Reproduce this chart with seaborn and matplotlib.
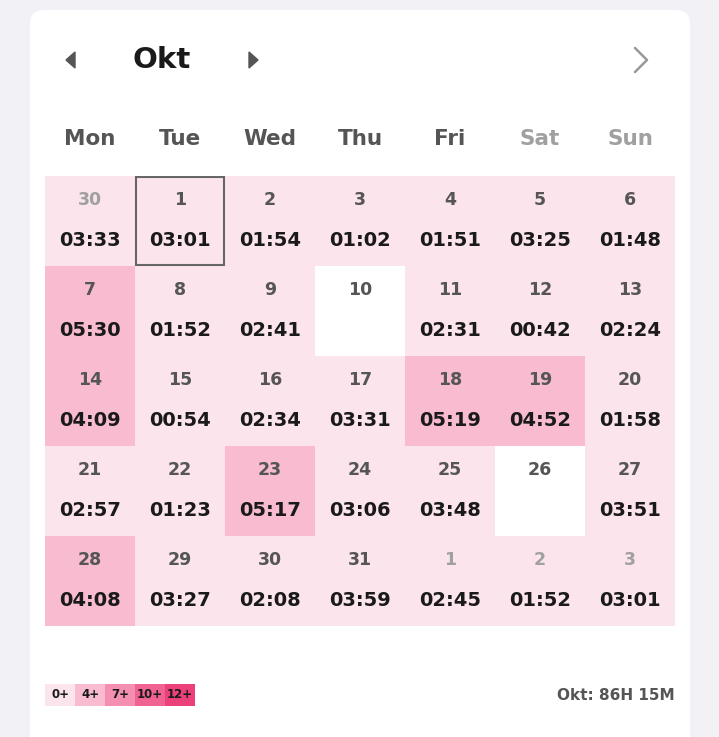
import numpy as np
import pandas as pd
import matplotlib.pyplot as plt
from matplotlib.colors import ListedColormap, BoundaryNorm
from matplotlib.patches import FancyBboxPatch, Polygon, Rectangle
import seaborn as sns

sns.set_theme(style="white")
plt.rcParams["font.family"] = ["DejaVu Sans"]

month = "Okt"
weekdays = ["Mon", "Tue", "Wed", "Thu", "Fri", "Sat", "Sun"]
days = [30, 1, 2, 3, 4, 5, 6,
        7, 8, 9, 10, 11, 12, 13,
        14, 15, 16, 17, 18, 19, 20,
        21, 22, 23, 24, 25, 26, 27,
        28, 29, 30, 31, 1, 2, 3]
in_month = [False] + [True] * 31 + [False] * 3
times = ["03:33", "03:01", "01:54", "01:02", "01:51", "03:25", "01:48",
         "05:30", "01:52", "02:41", None, "02:31", "00:42", "02:24",
         "04:09", "00:54", "02:34", "03:31", "05:19", "04:52", "01:58",
         "02:57", "01:23", "05:17", "03:06", "03:48", None, "03:51",
         "04:08", "03:27", "02:08", "03:59", "02:45", "01:52", "03:01"]
today_index = 1
total_label = "Okt: 86H 15M"

levels = [0, 4, 7, 10, 12]
level_labels = ["0+", "4+", "7+", "10+", "12+"]
level_colors = ["#fce4ec", "#f8bbd0", "#f48fb1", "#f06292", "#ec407a"]


def to_hours(t):
    if t is None:
        return np.nan
    h, m = t.split(":")
    return int(h) + int(m) / 60


hours = np.array([to_hours(t) for t in times]).reshape(5, 7)
grid = pd.DataFrame(hours, columns=weekdays)

cmap = ListedColormap(level_colors)
norm = BoundaryNorm(levels + [24], cmap.N)

W, H = 719, 737
fig = plt.figure(figsize=(W / 100, H / 100), dpi=100)
fig.patch.set_facecolor("#f2f1f6")

# page chrome in pixel coordinates
bg = fig.add_axes([0, 0, 1, 1])
bg.set_xlim(0, W)
bg.set_ylim(H, 0)
bg.axis("off")
bg.add_patch(FancyBboxPatch((30, 10), 660, 760, boxstyle="round,pad=0,rounding_size=14",
                            facecolor="white", edgecolor="none"))
bg.text(162, 60, month, ha="center", va="center", fontsize=21, fontweight="bold", color="#1a1a1a")
bg.add_patch(Polygon([[75, 52], [75, 68], [66, 60]], closed=True, color="#555555"))
bg.add_patch(Polygon([[249, 52], [249, 68], [258, 60]], closed=True, color="#555555"))
bg.plot([635, 647, 635], [48, 60, 72], color="#999999", lw=1.8, solid_capstyle="round")
for i, d in enumerate(weekdays):
    bg.text(90 + i * 90, 139, d, ha="center", va="center", fontsize=15.5, fontweight="bold",
            color="#a0a0a0" if i >= 5 else "#555555")
bg.text(675, 695, total_label, ha="right", va="center", fontsize=11, fontweight="bold",
        color="#555555")

# calendar heatmap
ax = fig.add_axes([45 / W, 1 - 626 / H, 630 / W, 450 / H])
sns.heatmap(grid, ax=ax, cmap=cmap, norm=norm, cbar=False, xticklabels=False,
            yticklabels=False, linewidths=0)
ax.set_facecolor("white")
for k in range(35):
    r, c = divmod(k, 7)
    ax.text(c + 0.5, r + 0.27, str(days[k]), ha="center", va="center", fontsize=12.5,
            fontweight="bold", color="#555555" if in_month[k] else "#a0a0a0")
    if times[k]:
        ax.text(c + 0.5, r + 0.72, times[k], ha="center", va="center", fontsize=14,
                fontweight="bold", color="#1a1a1a")
r, c = divmod(today_index, 7)
ax.add_patch(Rectangle((c + 0.01, r + 0.01), 0.98, 0.98, fill=False, edgecolor="#666666", lw=1.5))

# legend strip
lax = fig.add_axes([45 / W, 1 - 706 / H, 150 / W, 22 / H])
sns.heatmap(pd.DataFrame([levels], columns=level_labels), ax=lax, cmap=cmap, norm=norm,
            cbar=False, xticklabels=False, yticklabels=False, linewidths=0)
for i, lab in enumerate(level_labels):
    lax.text(i + 0.5, 0.5, lab, ha="center", va="center", fontsize=8.5, fontweight="bold",
             color="#1a1a1a")

fig.savefig("out.png", dpi=100, facecolor=fig.get_facecolor())
